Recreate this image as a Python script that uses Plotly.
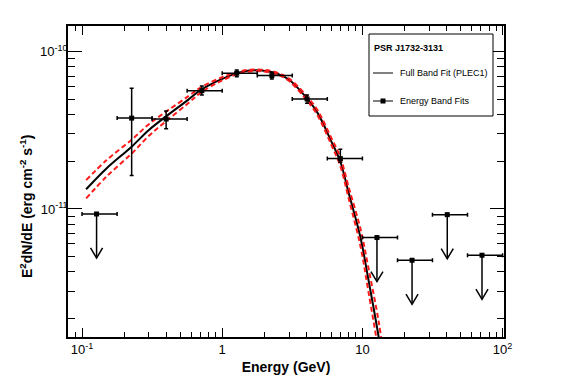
import plotly.graph_objects as go

# ---------------- data ----------------
# Energy band fits (detections), GeV and erg cm^-2 s^-1
band_energy = [0.226, 0.398, 0.716, 1.27, 2.26, 4.03, 6.96]
band_energy_lo = [0.178, 0.316, 0.562, 1.0, 1.78, 3.16, 5.62]
band_energy_hi = [0.316, 0.562, 1.0, 1.78, 3.16, 5.62, 10.0]
band_flux = [3.78e-11, 3.73e-11, 5.65e-11, 7.29e-11, 7.04e-11, 5.00e-11, 2.09e-11]
band_flux_hi = [5.85e-11, 4.20e-11, 6.05e-11, 7.65e-11, 7.39e-11, 5.31e-11, 2.40e-11]
band_flux_lo = [1.63e-11, 3.23e-11, 5.31e-11, 6.93e-11, 6.70e-11, 4.70e-11, 1.98e-11]

# Upper limits
ul_energy = [0.127, 12.7, 22.6, 40.3, 71.3]
ul_energy_lo = [0.1, 10.0, 17.8, 31.6, 56.2]
ul_energy_hi = [0.178, 17.8, 31.6, 56.2, 100.0]
ul_flux = [9.29e-12, 6.58e-12, 4.72e-12, 9.2e-12, 5.08e-12]

# Full band fit (PLEC1) curve and its error band, sampled (log10 flux)
curve_energy = [0.107, 0.15, 0.226, 0.3, 0.4, 0.574, 0.7, 1.0, 1.4, 1.92, 2.5,
                3.0, 3.79, 4.74, 6.0, 6.96, 8.0, 9.68, 11.0, 13.06, 14.0]
curve_log = [-10.875, -10.741, -10.604, -10.498, -10.41, -10.305, -10.245, -10.173,
             -10.127, -10.12, -10.141, -10.179, -10.27, -10.383, -10.570, -10.70,
             -10.901, -11.18, -11.442, -11.815, -12.01]
upper_log = [-10.817, -10.689, -10.560, -10.461, -10.380, -10.283, -10.228, -10.163,
             -10.121, -10.115, -10.135, -10.171, -10.258, -10.367, -10.548, -10.672,
             -10.865, -11.125, -11.367, -11.715, -11.90]
lower_log = [-10.933, -10.793, -10.648, -10.535, -10.440, -10.327, -10.262, -10.183,
             -10.133, -10.125, -10.147, -10.187, -10.282, -10.399, -10.592, -10.728,
             -10.937, -11.235, -11.517, -11.915, -12.12]

x_tickvals = [0.1, 1, 10, 100]
x_ticktext = ["10<sup>-1</sup>", "1", "10", "10<sup>2</sup>"]
y_tickvals = [1e-11, 1e-10]
y_ticktext = ["10<sup>-11</sup>", "10<sup>-10</sup>"]

source_name = "PSR J1732-3131"
legend_fit = "Full Band Fit (PLEC1)"
legend_points = "Energy Band Fits"

# ---------------- figure ----------------
# page is offset by the 8px body margin, so the figure is 8px smaller
OFF = 8
W, H = 567 - OFF, 384 - OFF
X0, X1, Y0, Y1 = 68, 504, 26, 337          # plot frame in page pixels
L, R, T, B = X0 - OFF, 567 - X1, Y0 - OFF, 384 - Y1
pw, ph = X1 - X0, Y1 - Y0

def px(xp):
    return (xp - X0) / pw

def py(yp):
    return (Y1 - yp) / ph

FONT = "Liberation Sans, Arial, Helvetica, sans-serif"

fig = go.Figure()

fig.add_trace(go.Scatter(
    x=curve_energy, y=[10 ** v for v in curve_log], mode="lines",
    line=dict(color="black", width=2, shape="spline"), showlegend=False))
fig.add_trace(go.Scatter(
    x=curve_energy, y=[10 ** v for v in upper_log], mode="lines",
    line=dict(color="#ff1a1a", width=2, dash="5px,3px", shape="spline"), showlegend=False))
fig.add_trace(go.Scatter(
    x=curve_energy, y=[10 ** v for v in lower_log], mode="lines",
    line=dict(color="#ff1a1a", width=2, dash="5px,3px", shape="spline"), showlegend=False))

# detections
fig.add_trace(go.Scatter(
    x=band_energy, y=band_flux, mode="markers",
    marker=dict(symbol="square", size=5, color="black"),
    error_x=dict(type="data", symmetric=False,
                 array=[h - e for h, e in zip(band_energy_hi, band_energy)],
                 arrayminus=[e - l for e, l in zip(band_energy, band_energy_lo)],
                 color="black", thickness=1.5, width=2),
    error_y=dict(type="data", symmetric=False,
                 array=[h - f for h, f in zip(band_flux_hi, band_flux)],
                 arrayminus=[f - l for f, l in zip(band_flux, band_flux_lo)],
                 color="black", thickness=1.5, width=2),
    showlegend=False))

# upper limits
fig.add_trace(go.Scatter(
    x=ul_energy, y=ul_flux, mode="markers",
    marker=dict(symbol="square", size=5, color="black"),
    error_x=dict(type="data", symmetric=False,
                 array=[h - e for h, e in zip(ul_energy_hi, ul_energy)],
                 arrayminus=[e - l for e, l in zip(ul_energy, ul_energy_lo)],
                 color="black", thickness=1.5, width=2),
    showlegend=False))

arrow_len = 10 ** -0.28
head_w = 10 ** 0.043
head_h = 10 ** 0.064
ax_, ay_ = [], []
for e, f in zip(ul_energy, ul_flux):
    tip = f * arrow_len
    ax_ += [e, e, None, e / head_w, e, e * head_w, None]
    ay_ += [f, tip, None, tip * head_h, tip, tip * head_h, None]
fig.add_trace(go.Scatter(x=ax_, y=ay_, mode="lines",
                         line=dict(color="black", width=1.5), showlegend=False))

# ---------------- manual legend ----------------
shapes = [
    dict(type="rect", xref="paper", yref="paper", x0=px(369), x1=px(493), y0=py(116), y1=py(34),
         line=dict(color="black", width=1), fillcolor="white", layer="above"),
    dict(type="line", xref="paper", yref="paper", x0=px(373), x1=px(393), y0=py(73), y1=py(73),
         line=dict(color="black", width=1), layer="above"),
    dict(type="line", xref="paper", yref="paper", x0=px(373), x1=px(393), y0=py(101), y1=py(101),
         line=dict(color="black", width=1), layer="above"),
    dict(type="rect", xref="paper", yref="paper", x0=px(380.5), x1=px(385.5), y0=py(103.5), y1=py(98.5),
         line=dict(color="black", width=0), fillcolor="black", layer="above"),
]
annotations = [
    dict(xref="paper", yref="paper", x=px(372), y=py(48), xanchor="left", yanchor="middle",
         text="<b>" + source_name + "</b>", showarrow=False,
         font=dict(family=FONT, size=9, color="black")),
    dict(xref="paper", yref="paper", x=px(398), y=py(73), xanchor="left", yanchor="middle",
         text=legend_fit, showarrow=False, font=dict(family=FONT, size=9, color="black")),
    dict(xref="paper", yref="paper", x=px(398), y=py(101), xanchor="left", yanchor="middle",
         text=legend_points, showarrow=False, font=dict(family=FONT, size=9, color="black")),
    dict(xref="paper", yref="paper", x=px(26), y=py(206), xanchor="center", yanchor="middle",
         textangle=-90, showarrow=False,
         text="<b>E<sup>2</sup>dN/dE (erg cm<sup>-2</sup> s<sup>-1</sup>)</b>",
         font=dict(family=FONT, size=14, color="black")),
]

x_minor = [0.09] + [k * 0.1 for k in range(2, 10)] + list(range(2, 10)) + [k * 10 for k in range(2, 10)]
y_minor = [k * 1e-12 for k in range(2, 10)] + [k * 1e-11 for k in range(2, 10)]

fig.update_layout(
    width=W, height=H,
    margin=dict(l=L, r=R, t=T, b=B),
    paper_bgcolor="white", plot_bgcolor="white",
    font=dict(family=FONT, color="black"),
    showlegend=False,
    shapes=shapes, annotations=annotations,
    xaxis=dict(type="log", range=[-1.1, 2.01], tickvals=x_tickvals, ticktext=x_ticktext,
               ticks="inside", ticklen=9, tickwidth=1, tickcolor="black",
               minor=dict(tickvals=x_minor, ticks="inside", ticklen=5, tickcolor="black", showgrid=False),
               showline=True, linecolor="black", linewidth=1.5, mirror="allticks",
               showgrid=False, zeroline=False, tickfont=dict(size=13),
               title=dict(text="<b>Energy (GeV)</b>", font=dict(size=14), standoff=6)),
    yaxis=dict(type="log", range=[-11.814, -9.837], tickvals=y_tickvals, ticktext=y_ticktext,
               ticks="inside", ticklen=14, tickwidth=1, tickcolor="black", ticklabelstandoff=-4,
               minor=dict(tickvals=y_minor, ticks="inside", ticklen=7, tickcolor="black", showgrid=False),
               showline=True, linecolor="black", linewidth=1.5, mirror="allticks",
               showgrid=False, zeroline=False, tickfont=dict(size=13)),
)

fig.write_html("out.html")
